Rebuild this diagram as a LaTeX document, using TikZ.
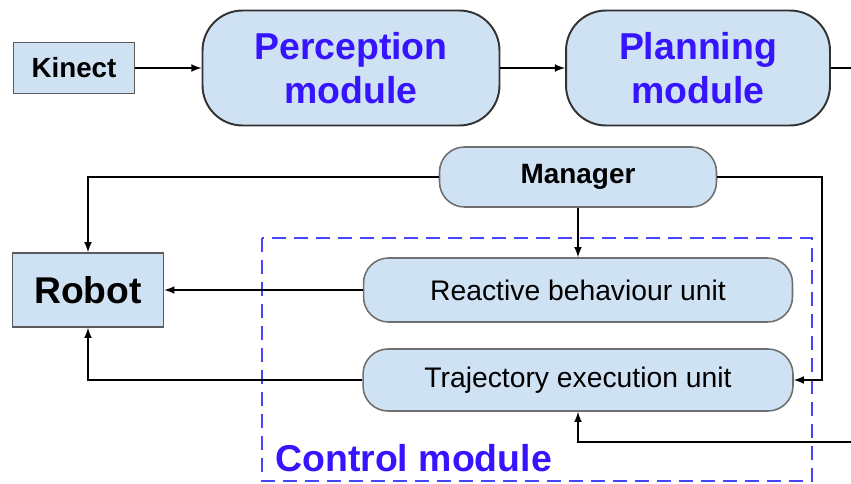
\documentclass[tikz,border=0pt]{standalone}
\usepackage{fontspec}
\setmainfont{Liberation Sans}
\usetikzlibrary{arrows,positioning}

\definecolor{boxfill}{RGB}{207,226,243}
\definecolor{boxline}{RGB}{50,50,50}
\definecolor{titleblue}{RGB}{55,20,255}
\definecolor{dashblue}{RGB}{70,70,255}

\tikzset{
  plainbox/.style={rectangle, draw=boxline!80, line width=0.9pt, fill=boxfill, inner sep=0pt},
  modbox/.style={rectangle, rounded corners=0.8cm, draw=boxline, line width=1.1pt, fill=boxfill,
    align=center, inner sep=0pt, font=\fontsize{21.3}{25}\selectfont\bfseries, text=titleblue},
  unitbox/.style={rectangle, rounded corners=0.5cm, draw=boxline!70, line width=0.9pt, fill=boxfill, inner sep=0pt},
  link/.style={->, >=latex, line width=1pt, black},
}

\begin{document}
\begin{tikzpicture}[x=0.02cm, y=-0.02cm]
  \useasboundingbox (0,0) rectangle (851,483);
  %nodes
  \node at (74,68) [plainbox, minimum width=2.42cm, minimum height=1.02cm, font=\fontsize{15.8}{18}\selectfont\bfseries] (kinect) {Kinect};
  \node at (351,68) [modbox, minimum width=5.94cm, minimum height=2.30cm] (perception) {Perception\\module};
  \node at (698,68) [modbox, minimum width=5.28cm, minimum height=2.30cm] (planning) {Planning\\module};
  \coordinate (planout) at (851,68);

  \node at (578,177) [unitbox, minimum width=5.54cm, minimum height=1.2cm, font=\fontsize{15.9}{18}\selectfont\bfseries] (manager) {Manager};
  \node at (88,290) [plainbox, minimum width=3.02cm, minimum height=1.48cm, font=\fontsize{21.2}{25}\selectfont\bfseries] (robot) {Robot};
  \node at (578,290) [unitbox, minimum width=8.58cm, minimum height=1.28cm, font=\fontsize{16.1}{19}\selectfont] (reactive) {Reactive behaviour unit};
  \node at (578,380) [unitbox, minimum width=8.6cm, minimum height=1.24cm, font=\fontsize{16.1}{19}\selectfont] (trajectory) {Trajectory execution unit};
  \coordinate (planin) at (851,442);

  % control module frame
  \draw[dashblue, line width=1.4pt, dash pattern=on 0.28cm off 0.16cm] (262,238) rectangle (812,481);
  \node at (275,458) [anchor=west, inner sep=0pt, font=\fontsize{21.3}{25}\selectfont\bfseries, text=titleblue] (control) {Control module};

  %edges
  \draw[link] (kinect) -- (perception);
  \draw[link] (perception) -- (planning);
  \draw[line width=1pt] (planning) -- (planout);
  \draw[link] (manager.west) -| (robot.north);
  \draw[link] (manager.south) -- (reactive.north);
  \draw[link] (manager.east) -- (822,177) |- (trajectory.east);
  \draw[link] (reactive.west) -- (robot.east);
  \draw[link] (trajectory.west) -| (robot.south);
  \draw[link] (planin) -| (trajectory.south);
\end{tikzpicture}
\end{document}
